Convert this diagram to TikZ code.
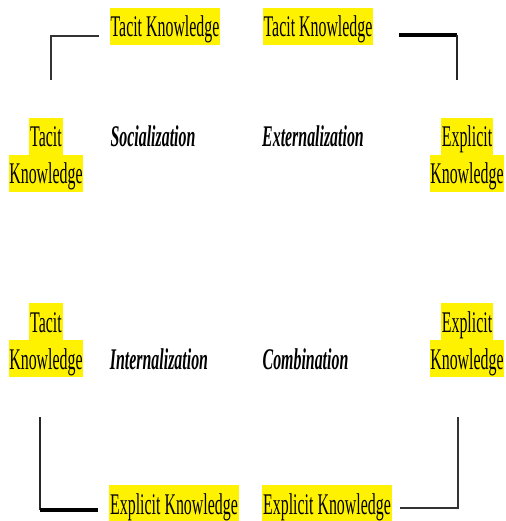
\documentclass[tikz,border=0pt]{standalone}
\usepackage{fontspec}
\setmainfont{Liberation Serif}[FakeStretch=0.53]
\begin{document}
\begin{tikzpicture}[x=1pt,y=1pt,
  hl/.style={fill=yellow, inner xsep=0.8pt, inner ysep=0pt, text height=29pt, text depth=8pt, anchor=base, font=\fontsize{30}{37}\selectfont},
  mode/.style={inner sep=0pt, anchor=base, font=\fontsize{30}{37}\selectfont\bfseries\itshape},
  thinline/.style={line width=1.4pt, black!85},
  midline/.style={line width=2pt, black!80},
  thickline/.style={line width=4.2pt, black}]
\useasboundingbox (0,0) rectangle (505,-521);
% labels
\node[hl] (tt1) at (165,-37) {Tacit Knowledge};
\node[hl] (tt2) at (318,-37) {Tacit Knowledge};
\node[hl] (lt1) at (46,-147) {Tacit};
\node[hl] (lt2) at (46,-184) {Knowledge};
\node[hl] (re1) at (467,-147) {Explicit};
\node[hl] (re2) at (467,-184) {Knowledge};
\node[hl] (lb1) at (46,-332) {Tacit};
\node[hl] (lb2) at (46,-369) {Knowledge};
\node[hl] (rb1) at (467,-332) {Explicit};
\node[hl] (rb2) at (467,-369) {Knowledge};
\node[hl] (be1) at (174,-514) {Explicit Knowledge};
\node[hl] (be2) at (327,-514) {Explicit Knowledge};
% modes
\node[mode] (soc) at (153,-147) {Socialization};
\node[mode] (ext) at (313,-147) {Externalization};
\node[mode] (int) at (159,-369) {Internalization};
\node[mode] (com) at (305.5,-369) {Combination};
% connector points
\coordinate (a1) at (51,-80);
\coordinate (a2) at (51,-36);
\coordinate (a3) at (99,-36);
\coordinate (b1) at (399,-35);
\coordinate (b2) at (457,-35);
\coordinate (b3) at (457,-80);
\coordinate (c1) at (40,-417);
\coordinate (c2) at (40,-510);
\coordinate (c3) at (98,-510);
\coordinate (d1) at (458,-417);
\coordinate (d2) at (458,-508);
\coordinate (d3) at (400,-508);
% connectors
\draw[midline] (a1) -- (a2) -- (a3);
\draw[thickline] (b1) -- (b2);
\draw[thinline] (b2) -- (b3);
\draw[thinline] (c1) -- (c2);
\draw[thickline] (c2) -- (c3);
\draw[midline] (d1) -- (d2) -- (d3);
\end{tikzpicture}
\end{document}
